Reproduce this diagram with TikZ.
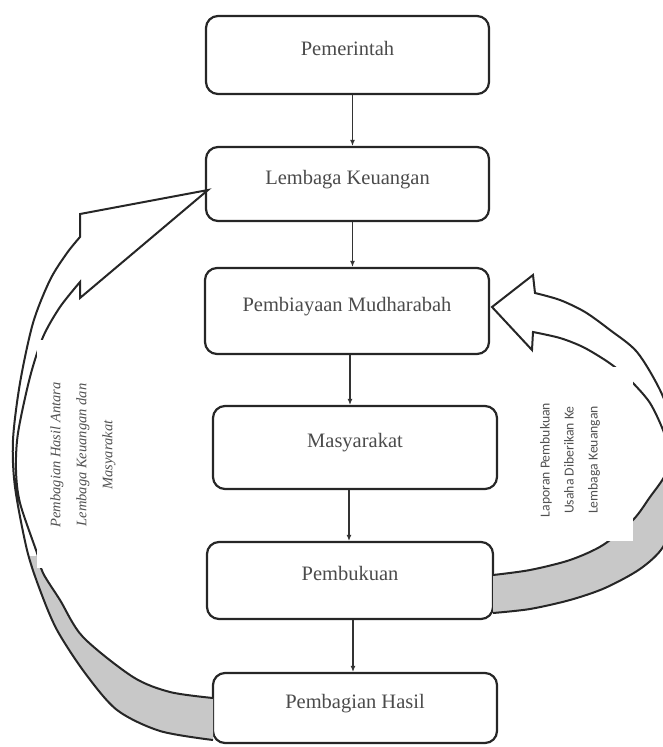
\documentclass[tikz,border=0pt]{standalone}
\usepackage{fontspec}
\setmainfont{Liberation Serif}
\newfontfamily\carl{Carlito}
\usetikzlibrary{arrows.meta}
\definecolor{bandc}{RGB}{200,200,200}
\definecolor{txt}{RGB}{75,75,75}
\definecolor{txtb}{RGB}{80,80,80}
\begin{document}
\begin{tikzpicture}[x=1pt,y=-1pt,
  box/.style={draw=black!85, line width=2.2pt, rounded corners=12pt, inner sep=0pt,
    text=txt, font=\fontsize{20.5}{24}\selectfont, text height=15pt, text depth=15pt},
  flow/.style={line width=1.1pt, draw=black!80, -{Latex[length=6pt,width=5pt]}},
  band/.style={line width=2pt, draw=black!85, line join=miter}]
\useasboundingbox (0,0) rectangle (663,747);
\clip (0,0) rectangle (663,747);

% boxes
\node[box, minimum width=283pt, minimum height=78pt] (p1) at (347.5,55) {Pemerintah};
\node[box, minimum width=283pt, minimum height=74pt] (p2) at (347.5,184) {Lembaga Keuangan};
\node[box, minimum width=284pt, minimum height=86pt] (p3) at (347,311) {Pembiayaan Mudharabah};
\node[box, minimum width=284pt, minimum height=83pt] (p4) at (355,447.5) {Masyarakat};
\node[box, minimum width=286pt, minimum height=77pt] (p5) at (350,580.5) {Pembukuan};
\node[box, minimum width=284pt, minimum height=70pt] (p6) at (355,708) {Pembagian Hasil};

% vertical flow arrows
\draw[flow] ([xshift=5pt]p1.south) -- ([xshift=5pt]p1.south |- p2.north);
\draw[flow] ([xshift=5pt]p2.south) -- ([xshift=5pt]p2.south |- p3.north);
\draw[flow] ([xshift=3pt]p3.south) -- ([xshift=3pt]p3.south |- p4.north);
\draw[flow] ([xshift=-6pt]p4.south) -- ([xshift=-6pt]p4.south |- p5.north);
\draw[flow] ([xshift=3pt]p5.south) -- ([xshift=3pt]p5.south |- p6.north);

% left curved block arrow
\begin{scope}
\clip (0,556) rectangle (240,747);
\fill[bandc] plot[smooth] coordinates {(80,237) (67,253) (50,280) (33,323) (20,383) (13,440) (15,487) (27,550) (40,590) (57,630) (85,673) (117,710) (160,731) (213,740)}
  -- plot[smooth] coordinates {(213,698) (170,692) (133,677) (83,637) (60,600) (43,573) (37,553) (20,503) (16,470) (18,433) (30,377) (43,337) (60,307) (80,282)} -- cycle;
\end{scope}
\draw[band] plot[smooth] coordinates {(213,740) (160,731) (117,710) (85,673) (57,630) (40,590) (27,550) (15,487) (13,440) (20,383) (33,323) (50,280) (67,253) (80,237)}
  -- (80,214) -- (208,190) -- (80,298) -- (80,282)
  -- plot[smooth] coordinates {(80,282) (60,307) (43,337) (30,377) (18,433) (16,470) (20,503) (37,553) (43,573) (60,600) (83,637) (133,677) (170,692) (213,698)};
\fill[white] (37,340) rectangle (130,568);

% right curved block arrow
\begin{scope}
\clip (470,468) rectangle (700,620);
\fill[bandc] plot[smooth] coordinates {(535,293) (560,300) (585,312) (610,330) (637,352) (660,390) (675,430) (682,470) (677,510) (663,547) (640,569) (605,588) (570,600) (530,609) (493,613)}
  -- plot[smooth] coordinates {(493,575) (530,570) (570,560) (603,545) (633,520) (650,497) (665,475) (669,452) (663,430) (650,403) (633,383) (620,371) (605,360) (583,347) (560,338) (533,332)} -- cycle;
\end{scope}
\draw[band] plot[smooth] coordinates {(493,613) (530,609) (570,600) (605,588) (640,569) (663,547) (677,510) (682,470) (675,430) (660,390) (637,352) (610,330) (585,312) (560,300) (535,293)}
  -- (533,275) -- (492,307) -- (532,350) -- (533,332)
  -- plot[smooth] coordinates {(533,332) (560,338) (583,347) (605,360) (620,371) (633,383) (650,403) (663,430) (669,452) (665,475) (650,497) (633,520) (603,545) (570,560) (530,570) (493,575)};
\fill[white] (525,367) rectangle (633,541);

% labels
\node[rotate=90, align=center, text=txtb, font=\itshape\fontsize{14.5}{26}\selectfont] (ll) at (83,455) {Pembagian Hasil Antara\\Lembaga Keuangan dan\\Masyarakat};
\node[rotate=90, align=center, text=txtb, font=\carl\fontsize{13.7}{24}\selectfont] (rl) at (570,460) {Laporan Pembukuan\\Usaha Diberikan Ke\\Lembaga Keuangan};
\end{tikzpicture}
\end{document}
